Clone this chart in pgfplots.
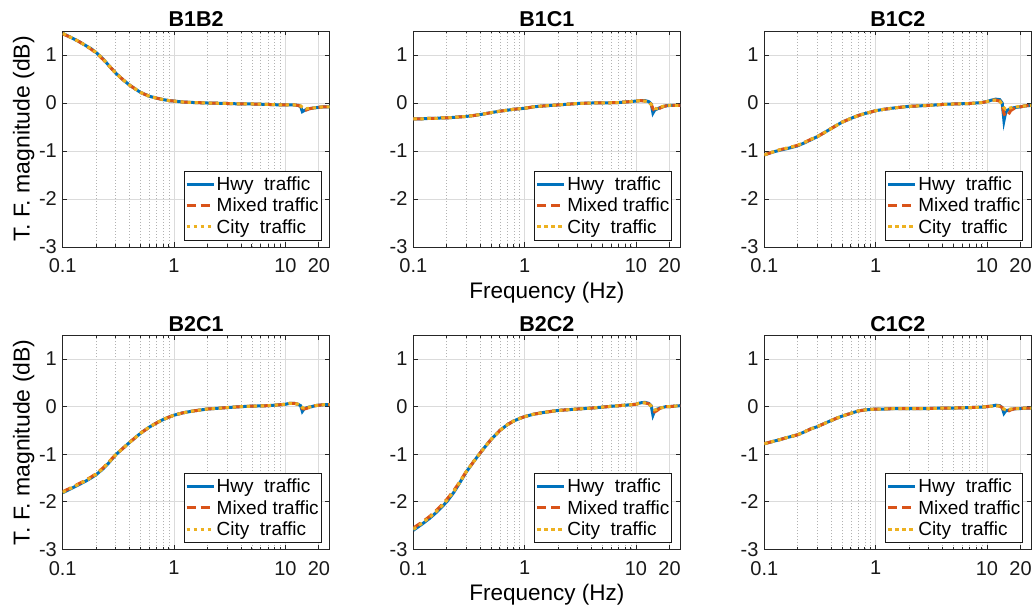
\documentclass[border=0pt]{standalone}
\usepackage{pgfplots}
\usepackage{pgfplotstable}
\pgfplotsset{compat=1.18}
\usepackage{fontspec}
\setmainfont{Liberation Sans}
\definecolor{mblue}{RGB}{0,114,189}
\definecolor{morange}{RGB}{217,83,25}
\definecolor{myellow}{RGB}{237,177,32}

\pgfplotstableread{
x hwy mixed city
0.1 1.45 1.44 1.45
0.12 1.36 1.36 1.36
0.14 1.28 1.28 1.28
0.16 1.20 1.20 1.20
0.18 1.13 1.12 1.13
0.2 1.05 1.04 1.05
0.23 0.92 0.91 0.92
0.26 0.78 0.78 0.78
0.3 0.62 0.62 0.62
0.35 0.48 0.48 0.48
0.4 0.37 0.37 0.37
0.45 0.29 0.29 0.29
0.5 0.22 0.22 0.22
0.6 0.14 0.14 0.14
0.7 0.10 0.10 0.10
0.8 0.07 0.07 0.07
0.9 0.05 0.05 0.05
1 0.04 0.04 0.04
1.2 0.02 0.02 0.02
1.5 0.01 0.01 0.01
2 0.00 0.00 0.00
3 -0.01 -0.01 -0.01
4 -0.02 -0.02 -0.02
5 -0.02 -0.02 -0.02
7 -0.03 -0.03 -0.03
9 -0.04 -0.04 -0.04
10 -0.04 -0.04 -0.04
11 -0.04 -0.04 -0.04
12 -0.04 -0.04 -0.04
13 -0.05 -0.05 -0.05
13.7 -0.07 -0.07 -0.06
14.2 -0.18 -0.12 -0.09
14.7 -0.16 -0.15 -0.11
15.3 -0.14 -0.15 -0.12
16.3 -0.12 -0.12 -0.11
17.3 -0.11 -0.11 -0.10
18.5 -0.10 -0.10 -0.10
20 -0.09 -0.09 -0.09
22 -0.08 -0.08 -0.08
25 -0.08 -0.08 -0.08
}\tabBoneBtwo

\pgfplotstableread{
x hwy mixed city
0.1 -0.33 -0.33 -0.33
0.12 -0.33 -0.33 -0.33
0.14 -0.32 -0.32 -0.32
0.16 -0.32 -0.32 -0.32
0.18 -0.31 -0.31 -0.31
0.2 -0.31 -0.31 -0.31
0.23 -0.30 -0.30 -0.30
0.26 -0.29 -0.29 -0.29
0.3 -0.28 -0.28 -0.28
0.35 -0.26 -0.26 -0.26
0.4 -0.24 -0.24 -0.24
0.45 -0.22 -0.22 -0.22
0.5 -0.20 -0.20 -0.20
0.6 -0.17 -0.17 -0.17
0.7 -0.15 -0.15 -0.15
0.8 -0.13 -0.13 -0.13
0.9 -0.12 -0.12 -0.12
1 -0.11 -0.11 -0.11
1.2 -0.08 -0.08 -0.08
1.5 -0.06 -0.06 -0.06
2 -0.04 -0.04 -0.04
3 -0.01 -0.01 -0.01
4 0.00 0.00 0.00
5 0.00 0.00 0.00
7 0.01 0.01 0.01
9 0.03 0.03 0.03
10 0.04 0.04 0.04
11 0.05 0.05 0.05
12 0.05 0.04 0.04
13 0.03 0.02 0.02
13.7 -0.02 -0.03 -0.03
14.2 -0.21 -0.12 -0.08
14.7 -0.15 -0.16 -0.11
15.3 -0.13 -0.15 -0.12
16.3 -0.10 -0.11 -0.09
17.3 -0.08 -0.08 -0.07
18.5 -0.06 -0.06 -0.06
20 -0.05 -0.05 -0.05
22 -0.05 -0.05 -0.05
25 -0.05 -0.05 -0.05
}\tabBoneCone

\pgfplotstableread{
x hwy mixed city
0.1 -1.08 -1.08 -1.08
0.12 -1.02 -1.02 -1.02
0.14 -0.98 -0.97 -0.97
0.16 -0.95 -0.94 -0.94
0.18 -0.92 -0.91 -0.91
0.2 -0.89 -0.88 -0.88
0.23 -0.83 -0.82 -0.82
0.26 -0.77 -0.76 -0.76
0.3 -0.70 -0.70 -0.70
0.35 -0.61 -0.61 -0.61
0.4 -0.53 -0.53 -0.53
0.45 -0.46 -0.46 -0.46
0.5 -0.40 -0.40 -0.40
0.6 -0.32 -0.32 -0.32
0.7 -0.26 -0.26 -0.26
0.8 -0.22 -0.22 -0.22
0.9 -0.19 -0.19 -0.19
1 -0.16 -0.16 -0.16
1.2 -0.13 -0.13 -0.13
1.5 -0.10 -0.10 -0.10
2 -0.07 -0.07 -0.07
3 -0.05 -0.05 -0.05
4 -0.03 -0.03 -0.03
5 -0.02 -0.02 -0.02
7 -0.01 -0.01 -0.01
9 0.01 0.01 0.01
10 0.03 0.03 0.03
11 0.06 0.06 0.06
12 0.08 0.06 0.06
13 0.07 0.04 0.04
13.7 0.00 -0.04 -0.03
14.2 -0.37 -0.22 -0.10
14.7 -0.20 -0.28 -0.13
15.3 -0.15 -0.27 -0.12
16.3 -0.12 -0.16 -0.10
17.3 -0.10 -0.12 -0.09
18.5 -0.09 -0.10 -0.08
20 -0.08 -0.08 -0.07
22 -0.06 -0.06 -0.06
25 -0.05 -0.05 -0.05
}\tabBoneCtwo

\pgfplotstableread{
x hwy mixed city
0.1 -1.81 -1.79 -1.80
0.12 -1.72 -1.70 -1.71
0.14 -1.64 -1.62 -1.63
0.16 -1.57 -1.55 -1.56
0.18 -1.50 -1.48 -1.49
0.2 -1.43 -1.41 -1.42
0.23 -1.31 -1.29 -1.30
0.26 -1.18 -1.16 -1.17
0.3 -1.01 -1.01 -1.01
0.35 -0.87 -0.87 -0.87
0.4 -0.75 -0.75 -0.75
0.45 -0.65 -0.65 -0.65
0.5 -0.56 -0.56 -0.56
0.6 -0.43 -0.43 -0.43
0.7 -0.34 -0.34 -0.34
0.8 -0.27 -0.27 -0.27
0.9 -0.22 -0.22 -0.22
1 -0.18 -0.18 -0.18
1.2 -0.13 -0.13 -0.13
1.5 -0.09 -0.09 -0.09
2 -0.05 -0.05 -0.05
3 -0.02 -0.02 -0.02
4 0.00 0.00 0.00
5 0.01 0.01 0.01
7 0.02 0.02 0.02
9 0.04 0.04 0.04
10 0.05 0.05 0.05
11 0.07 0.07 0.07
12 0.07 0.07 0.07
13 0.05 0.05 0.05
13.7 0.02 0.02 0.02
14.2 -0.10 -0.04 -0.02
14.7 -0.05 -0.05 -0.03
15.3 -0.03 -0.04 -0.03
16.3 -0.01 -0.02 -0.01
17.3 0.00 0.00 0.00
18.5 0.02 0.02 0.02
20 0.03 0.03 0.03
22 0.04 0.04 0.04
25 0.04 0.04 0.04
}\tabBtwoCone

\pgfplotstableread{
x hwy mixed city
0.1 -2.60 -2.55 -2.58
0.12 -2.47 -2.43 -2.45
0.14 -2.35 -2.31 -2.33
0.16 -2.23 -2.19 -2.21
0.18 -2.11 -2.07 -2.09
0.2 -2.00 -1.95 -1.97
0.23 -1.81 -1.77 -1.79
0.26 -1.61 -1.59 -1.60
0.3 -1.37 -1.36 -1.36
0.35 -1.15 -1.15 -1.15
0.4 -0.97 -0.97 -0.97
0.45 -0.82 -0.82 -0.82
0.5 -0.69 -0.69 -0.69
0.6 -0.50 -0.50 -0.50
0.7 -0.38 -0.38 -0.38
0.8 -0.30 -0.30 -0.30
0.9 -0.25 -0.25 -0.25
1 -0.21 -0.21 -0.21
1.2 -0.16 -0.16 -0.16
1.5 -0.12 -0.12 -0.12
2 -0.08 -0.08 -0.08
3 -0.05 -0.05 -0.05
4 -0.03 -0.03 -0.03
5 -0.01 -0.01 -0.01
7 0.02 0.02 0.02
9 0.04 0.04 0.04
10 0.05 0.05 0.05
11 0.08 0.08 0.08
12 0.09 0.08 0.08
13 0.07 0.06 0.06
13.7 0.02 0.01 0.01
14.2 -0.18 -0.08 -0.05
14.7 -0.09 -0.11 -0.07
15.3 -0.06 -0.09 -0.06
16.3 -0.03 -0.04 -0.03
17.3 -0.02 -0.02 -0.02
18.5 0.00 0.00 0.00
20 0.00 0.00 0.00
22 0.01 0.01 0.01
25 0.02 0.02 0.02
}\tabBtwoCtwo

\pgfplotstableread{
x hwy mixed city
0.1 -0.78 -0.78 -0.78
0.12 -0.73 -0.73 -0.73
0.14 -0.69 -0.69 -0.69
0.16 -0.65 -0.65 -0.65
0.18 -0.62 -0.62 -0.62
0.2 -0.59 -0.59 -0.59
0.23 -0.53 -0.53 -0.53
0.26 -0.47 -0.47 -0.47
0.3 -0.42 -0.42 -0.42
0.35 -0.35 -0.35 -0.35
0.4 -0.29 -0.29 -0.29
0.45 -0.24 -0.24 -0.24
0.5 -0.20 -0.20 -0.20
0.6 -0.14 -0.14 -0.14
0.7 -0.09 -0.09 -0.09
0.8 -0.07 -0.07 -0.07
0.9 -0.06 -0.06 -0.06
1 -0.05 -0.05 -0.05
1.2 -0.05 -0.05 -0.05
1.5 -0.04 -0.04 -0.04
2 -0.04 -0.04 -0.04
3 -0.04 -0.04 -0.04
4 -0.03 -0.03 -0.03
5 -0.03 -0.03 -0.03
7 -0.02 -0.02 -0.02
9 -0.01 -0.01 -0.01
10 0.00 0.00 0.00
11 0.01 0.01 0.01
12 0.03 0.02 0.02
13 0.02 0.01 0.01
13.7 -0.02 -0.02 -0.02
14.2 -0.14 -0.08 -0.05
14.7 -0.09 -0.10 -0.07
15.3 -0.08 -0.10 -0.07
16.3 -0.06 -0.07 -0.05
17.3 -0.05 -0.05 -0.04
18.5 -0.04 -0.04 -0.04
20 -0.04 -0.04 -0.04
22 -0.03 -0.03 -0.03
25 -0.03 -0.03 -0.03
}\tabConeCtwo

\pgfplotsset{
  tfpanel/.style={
    scale only axis, width=267pt,
    xmin=0.1, xmax=25, ymin=-3, ymax=1.5,
    xtick={0.1,1,10,20}, xticklabels={0.1,1,10,20},
    minor xtick={0.2,0.3,0.4,0.5,0.6,0.7,0.8,0.9,2,3,4,5,6,7,8,9},
    ytick={-3,-2,-1,0,1}, yticklabels={-3,-2,-1,0,1},
    /pgf/number format/assume math mode=true,
    grid=both,
    major grid style={draw=black!14, line width=0.9pt},
    minor grid style={draw=black!30, line width=0.7pt, dash pattern=on 1.2pt off 1.8pt},
    axis line style={draw=black!85, line width=0.9pt},
    tick style={draw=black!85, line width=0.9pt},
    major tick length=4.5pt, minor tick length=2.5pt,
    tick label style={font=\fontsize{20}{22}\selectfont, text=black!90, inner sep=1pt},
    xticklabel style={yshift=-10.6pt},
    yticklabel style={xshift=-4.7pt},
    title style={font=\bfseries\fontsize{21.5}{24}\selectfont, yshift=-5.5pt},
    xlabel style={font=\fontsize{22.5}{25}\selectfont, at={(axis description cs:0.5,-0.2395)}, anchor=base},
    ylabel style={font=\fontsize{23}{25}\selectfont, at={(axis description cs:-0.1236,0.5)}, anchor=base},
    legend style={at={(axis description cs:1,0)}, anchor=south east, xshift=-8pt, yshift=6.5pt,
      draw=black!90, line width=0.9pt, fill=white,
      font=\fontsize{19}{21}\selectfont, inner xsep=1pt, inner ysep=4pt, row sep=3pt,
      nodes={inner sep=1.5pt}},
    legend cell align=left,
    legend image code/.code={\draw[##1] (0pt,0pt) -- (27pt,0pt);},
    clip=true,
  },
  hwy/.style={color=mblue, line width=3pt, solid},
  mix/.style={color=morange, line width=3pt, dash pattern=on 9pt off 5pt},
  cty/.style={color=myellow, line width=3pt, dash pattern=on 3.5pt off 3.5pt},
}

\newcommand{\panel}[6]{%
  \begin{semilogxaxis}[tfpanel, at={(#1,#2)}, anchor=south west, height=#3, title={#4}, #6]
    \addplot[hwy] table[x=x, y=hwy] {#5};
    \addplot[mix] table[x=x, y=mixed] {#5};
    \addplot[cty] table[x=x, y=city] {#5};
    \legend{Hwy\ \ traffic, Mixed traffic, City\ \ traffic}
  \end{semilogxaxis}}

\begin{document}
\begin{tikzpicture}[x=1pt,y=1pt]
\path (0,0) rectangle (1034,611);
\panel{62.7pt}{364pt}{216pt}{B1B2}{\tabBoneBtwo}{ylabel={T. F. magnitude (dB)}}
\panel{413.3pt}{364pt}{216pt}{B1C1}{\tabBoneCone}{xlabel={Frequency (Hz)}}
\panel{764.3pt}{364pt}{216pt}{B1C2}{\tabBoneCtwo}{}
\panel{62.7pt}{61.7pt}{214pt}{B2C1}{\tabBtwoCone}{ylabel={T. F. magnitude (dB)}}
\panel{413.3pt}{61.7pt}{214pt}{B2C2}{\tabBtwoCtwo}{xlabel={Frequency (Hz)}}
\panel{764.3pt}{61.7pt}{214pt}{C1C2}{\tabConeCtwo}{}
\end{tikzpicture}
\end{document}
